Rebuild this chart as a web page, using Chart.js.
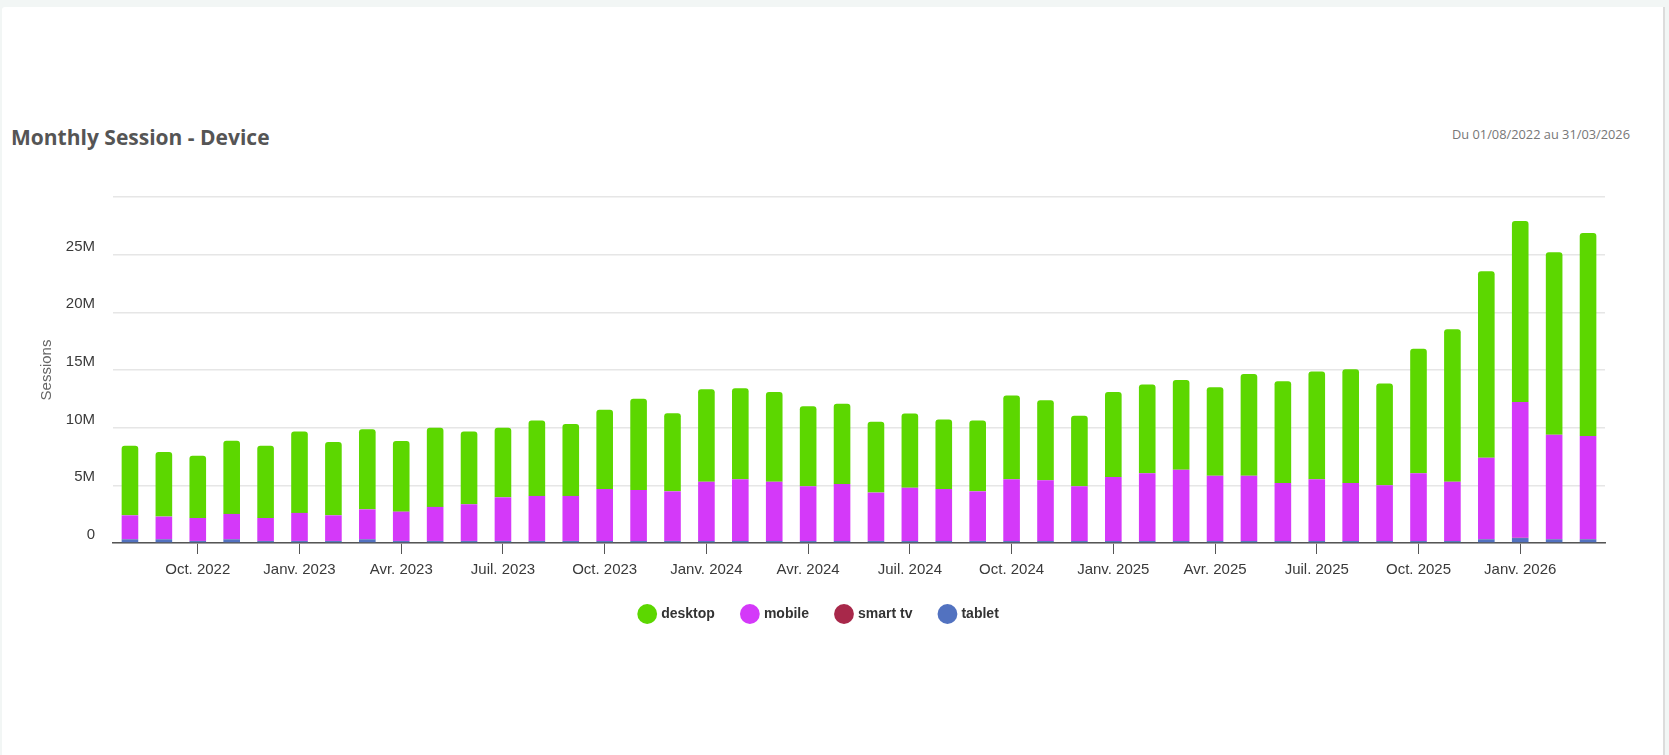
<!DOCTYPE html>
<html>
<head>
<meta charset="utf-8">
<title>Monthly Session - Device</title>
<script src="https://cdn.jsdelivr.net/npm/chart.js@4.4.1/dist/chart.umd.min.js"></script>
<style>
  html, body { margin: 0; padding: 0; }
  body { width: 1669px; height: 755px; background: #f2f6f5; position: relative; overflow: hidden; }
  .card { position: absolute; left: 2px; top: 7px; width: 1661px; height: 748px; background: #fff; border-right: 2px solid #dcdcdc; border-top-left-radius: 3px; }
  .title { position: absolute; left: 11px; top: 123px; font-family: "Open Sans", sans-serif; font-weight: 700; font-size: 21px; color: #555; }
  .range { position: absolute; right: 39px; top: 125px; font-family: "Open Sans", sans-serif; font-size: 12.8px; color: #777; }
  .chart-box { position: absolute; left: 0; top: 170px; width: 1640px; height: 461px; }
</style>
</head>
<body>
<div class="card"></div>
<div class="title">Monthly Session - Device</div>
<div class="range">Du 01/08/2022 au 31/03/2026</div>
<div class="chart-box"><canvas id="deviceChart"></canvas></div>
<script>
// mois (août 2022 -> mars 2026)
const months = [
  'Août 2022', 'Sept. 2022', 'Oct. 2022', 'Nov. 2022', 'Déc. 2022',
  'Janv. 2023', 'Févr. 2023', 'Mars 2023', 'Avr. 2023', 'Mai 2023', 'Juin 2023',
  'Juil. 2023', 'Août 2023', 'Sept. 2023', 'Oct. 2023', 'Nov. 2023', 'Déc. 2023',
  'Janv. 2024', 'Févr. 2024', 'Mars 2024', 'Avr. 2024', 'Mai 2024', 'Juin 2024',
  'Juil. 2024', 'Août 2024', 'Sept. 2024', 'Oct. 2024', 'Nov. 2024', 'Déc. 2024',
  'Janv. 2025', 'Févr. 2025', 'Mars 2025', 'Avr. 2025', 'Mai 2025', 'Juin 2025',
  'Juil. 2025', 'Août 2025', 'Sept. 2025', 'Oct. 2025', 'Nov. 2025', 'Déc. 2025',
  'Janv. 2026', 'Févr. 2026', 'Mars 2026'
];

// labels affichés sur l'axe x
const tickLabels = [
  'Oct. 2022', 'Janv. 2023', 'Avr. 2023', 'Juil. 2023', 'Oct. 2023',
  'Janv. 2024', 'Avr. 2024', 'Juil. 2024', 'Oct. 2024',
  'Janv. 2025', 'Avr. 2025', 'Juil. 2025', 'Oct. 2025', 'Janv. 2026'
];

// sessions en millions
const desktop = [
  6.03, 5.59, 5.40, 6.34, 6.26, 7.06, 6.35, 6.95, 6.12, 6.86, 6.31,
  6.03, 6.54, 6.23, 6.87, 7.90, 6.78, 8.02, 7.90, 7.78, 6.95, 6.95,
  6.14, 6.43, 6.03, 6.14, 7.27, 6.95, 6.12, 7.38, 7.70, 7.78, 7.67,
  8.82, 8.83, 9.34, 9.87, 8.83, 10.81, 13.21, 16.16, 15.69, 15.81, 17.59
];
const mobile = [
  2.07, 1.96, 1.99, 2.19, 1.99, 2.43, 2.22, 2.59, 2.54, 2.95, 3.18,
  3.78, 3.90, 3.90, 4.50, 4.42, 4.30, 5.14, 5.34, 5.14, 4.73, 4.94,
  4.19, 4.62, 4.50, 4.30, 5.34, 5.25, 4.73, 5.54, 5.86, 6.18, 5.66,
  5.66, 5.02, 5.34, 5.02, 4.82, 5.86, 5.14, 7.06, 11.77, 9.05, 8.94
];
const smartTv = [
  0.01, 0.01, 0.01, 0.01, 0.01, 0.01, 0.01, 0.01, 0.01, 0.01, 0.01,
  0.01, 0.01, 0.01, 0.01, 0.01, 0.01, 0.01, 0.01, 0.01, 0.01, 0.01,
  0.01, 0.01, 0.01, 0.01, 0.01, 0.01, 0.01, 0.01, 0.01, 0.01, 0.01,
  0.01, 0.01, 0.01, 0.01, 0.01, 0.01, 0.01, 0.02, 0.02, 0.02, 0.02
];
const tablet = [
  0.32, 0.32, 0.17, 0.32, 0.17, 0.17, 0.17, 0.32, 0.17, 0.17, 0.17,
  0.17, 0.17, 0.17, 0.17, 0.17, 0.17, 0.17, 0.17, 0.17, 0.17, 0.17,
  0.17, 0.17, 0.17, 0.17, 0.17, 0.17, 0.17, 0.17, 0.17, 0.17, 0.17,
  0.17, 0.17, 0.17, 0.17, 0.17, 0.17, 0.17, 0.32, 0.43, 0.32, 0.32
];

(function() {
    const ctx = document.getElementById('deviceChart');
    const isShown = (i) => tickLabels.includes(months[i]);

    const bar = (label, data, color, rounded) => ({
        label: label,
        data: data,
        backgroundColor: color,
        borderWidth: 0,
        borderRadius: rounded ? { topLeft: 3, topRight: 3, bottomLeft: 0, bottomRight: 0 } : 0,
        borderSkipped: false,
        barPercentage: 0.49,
        categoryPercentage: 1
    });

    new Chart(ctx, {
        type: 'bar',
        data: {
            labels: months,
            // ordre d'empilement : tablet en bas, desktop en haut
            datasets: [
                bar('tablet', tablet, '#5272c0', false),
                bar('smart tv', smartTv, '#a8284a', false),
                bar('mobile', mobile, '#d439f9', false),
                bar('desktop', desktop, '#5cd700', true)
            ]
        },
        options: {
            responsive: true,
            maintainAspectRatio: false,
            animation: false,
            layout: { padding: { left: 34, right: 35, top: 16, bottom: 0 } },
            scales: {
                x: {
                    stacked: true,
                    afterFit: (scale) => { scale.height = 36; },
                    grid: {
                        display: true,
                        drawOnChartArea: false,
                        drawTicks: true,
                        tickLength: 11,
                        offset: false,
                        lineWidth: 1,
                        color: (c) => isShown(c.index) ? '#555' : 'rgba(0,0,0,0)'
                    },
                    border: { display: true, color: '#555', width: 1.5 },
                    ticks: {
                        autoSkip: false,
                        maxRotation: 0,
                        padding: 7,
                        color: '#3a3a3a',
                        font: { family: '"Liberation Sans", Arial, sans-serif', size: 15 },
                        callback: (value, index) => isShown(index) ? months[index] : ''
                    }
                },
                y: {
                    stacked: true,
                    min: 0,
                    max: 30,
                    afterFit: (scale) => { scale.width = 79; },
                    grid: { color: '#e6e6e6', lineWidth: 1.5, drawTicks: false },
                    border: { display: false },
                    ticks: {
                        stepSize: 5,
                        padding: 18,
                        labelOffset: -8,
                        color: '#3a3a3a',
                        font: { family: '"Liberation Sans", Arial, sans-serif', size: 15 },
                        callback: (value) => value === 30 ? '' : (value === 0 ? '0' : value + 'M')
                    },
                    title: {
                        display: true,
                        text: 'Sessions',
                        color: '#666',
                        font: { family: '"Liberation Sans", Arial, sans-serif', size: 15 }
                    }
                }
            },
            plugins: {
                legend: {
                    position: 'bottom',
                    reverse: true,
                    labels: {
                        usePointStyle: true,
                        pointStyle: 'circle',
                        boxWidth: 14,
                        boxHeight: 14,
                        padding: 28,
                        color: '#333',
                        font: { family: '"Liberation Sans", Arial, sans-serif', size: 14, weight: 'bold' }
                    }
                },
                tooltip: { enabled: false }
            }
        }
    });
})();
</script>
</body>
</html>
